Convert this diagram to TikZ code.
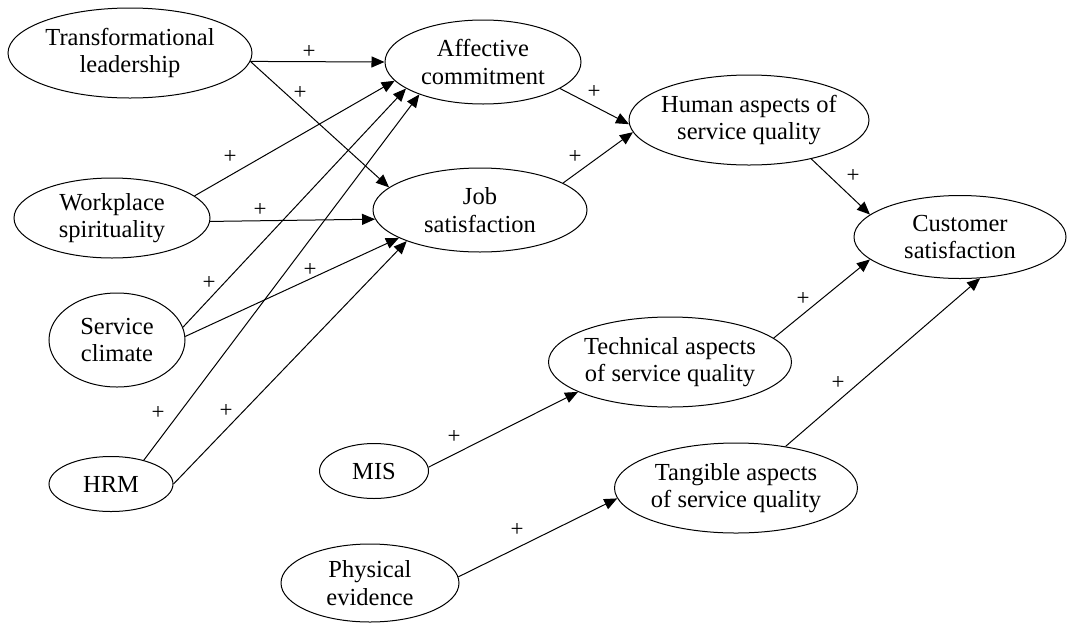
\documentclass[tikz,border=0pt]{standalone}
\usepackage{fontspec}
\setmainfont{Liberation Serif}
\usetikzlibrary{arrows.meta,shapes.geometric}
\begin{document}
\begin{tikzpicture}[x=1pt,y=-1pt,
  el/.style={draw, line width=1pt, ellipse, inner sep=0pt},
  txt/.style={align=center, inner sep=0pt, font=\fontsize{24.5}{27.5}\selectfont},
  conn/.style={line width=1pt, -{Triangle[length=13pt,width=11pt]}},
  plus/.style={font=\fontsize{23}{23}\selectfont, inner sep=0pt}]
\useasboundingbox (0,0) rectangle (1068,622);
% ellipses
\node[el, minimum width=244pt, minimum height=90pt] (TL) at (130,53) {};
\node[el, minimum width=196pt, minimum height=84pt] (AC) at (483,62) {};
\node[el, minimum width=196pt, minimum height=80pt] (WS) at (112,218) {};
\node[el, minimum width=214pt, minimum height=84pt] (Job) at (480,210) {};
\node[el, minimum width=136pt, minimum height=94pt] (SC) at (117,340) {};
\node[el, minimum width=124pt, minimum height=55pt] (HRM) at (111,484) {};
\node[el, minimum width=240pt, minimum height=90pt] (Human) at (749,120) {};
\node[el, minimum width=212pt, minimum height=83pt] (Cust) at (960,237) {};
\node[el, minimum width=243pt, minimum height=90pt] (Tech) at (670,362) {};
\node[el, minimum width=109pt, minimum height=55pt] (MIS) at (374,471) {};
\node[el, minimum width=243pt, minimum height=90pt] (Tang) at (736,488) {};
\node[el, minimum width=178pt, minimum height=78pt] (Phys) at (370,583) {};
% texts
\node[txt] (TLt) at (TL) {Transformational\\leadership};
\node[txt] (ACt) at (AC) {Affective\\commitment};
\node[txt] (WSt) at (WS) {Workplace\\spirituality};
\node[txt] (Jobt) at (Job) {Job\\satisfaction};
\node[txt] (SCt) at (SC) {Service\\climate};
\node[txt] (HRMt) at (HRM) {HRM};
\node[txt] (Humant) at (Human) {Human aspects of\\service quality};
\node[txt] (Custt) at (Cust) {Customer\\satisfaction};
\node[txt] (Techt) at (Tech) {Technical aspects\\of service quality};
\node[txt] (MISt) at (MIS) {MIS};
\node[txt] (Tangt) at (Tang) {Tangible aspects\\of service quality};
\node[txt] (Physt) at (Phys) {Physical\\evidence};
% connectors
\draw[conn] (TL.-4) -- (AC.180);
\draw[conn] (TL.-4) -- (Job.166);
\draw[conn] (WS.15) -- (AC.192);
\draw[conn] (WS.-2) -- (Job.185);
\draw[conn] (SC.11) -- (AC.199);
\draw[conn] (SC.3) -- (Job.199);
\draw[conn] (HRM.36) -- (AC.207);
\draw[conn] (HRM.0) -- (Job.203);
\draw[conn] (AC.-19) -- (Human.182);
\draw[conn] (Job.18) -- (Human.186);
\draw[conn] (Human.-32) -- (Cust.166);
\draw[conn] (Tech.13) -- (Cust.194);
\draw[conn] (MIS.4) -- (Tech.198);
\draw[conn] (Tang.40) -- (Cust.-64);
\draw[conn] (Phys.4) -- (Tang.185);
% plus labels
\node[plus] (p1) at (309,52) {+};
\node[plus] (p2) at (300,93) {+};
\node[plus] (p3) at (230,157) {+};
\node[plus] (p4) at (260,210) {+};
\node[plus] (p5) at (209,283) {+};
\node[plus] (p6) at (310,270) {+};
\node[plus] (p7) at (158,413) {+};
\node[plus] (p8) at (226,411) {+};
\node[plus] (p9) at (594,92) {+};
\node[plus] (p10) at (575,157) {+};
\node[plus] (p11) at (853,176) {+};
\node[plus] (p12) at (803,299) {+};
\node[plus] (p13) at (838,383) {+};
\node[plus] (p14) at (454,437) {+};
\node[plus] (p15) at (517,530) {+};
\end{tikzpicture}
\end{document}
